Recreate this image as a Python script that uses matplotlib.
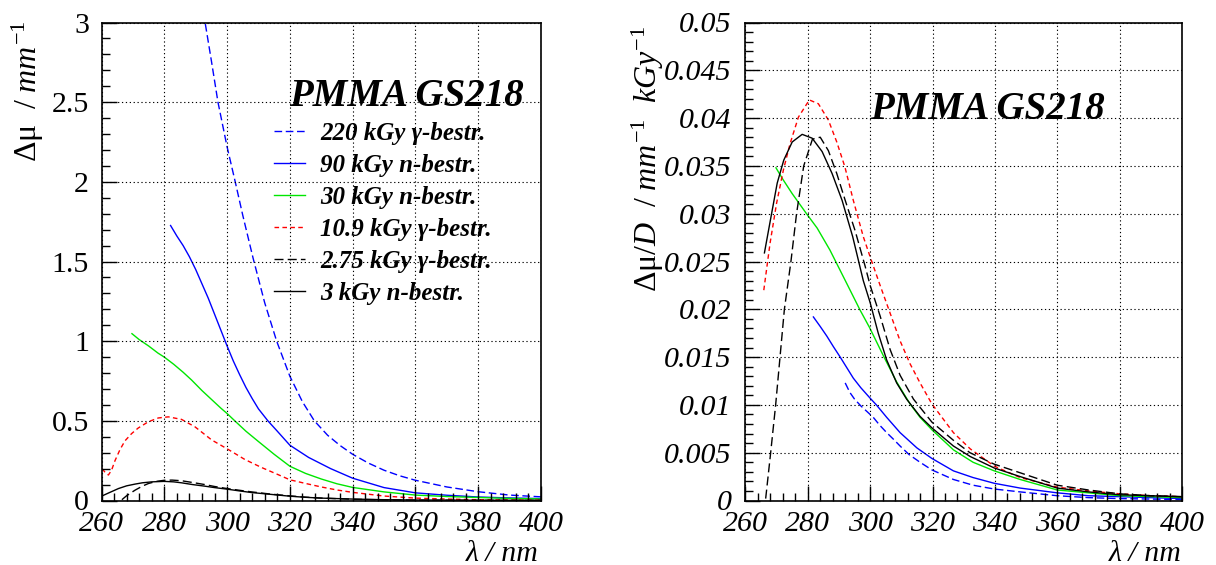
import matplotlib
matplotlib.use("Agg")
import matplotlib.pyplot as plt
from matplotlib.ticker import MultipleLocator, FixedLocator

plt.rcParams['font.family'] = ['Liberation Serif', 'DejaVu Serif']
plt.rcParams['mathtext.fontset'] = 'custom'
plt.rcParams['mathtext.rm'] = 'Liberation Serif'
plt.rcParams['mathtext.it'] = 'Liberation Serif:italic'
plt.rcParams['mathtext.bf'] = 'Liberation Serif:bold'
plt.rcParams['lines.scale_dashes'] = False

# ---------------- left panel: induced absorption  dmu / mm^-1 ----------------
l220_x = [292.5, 295, 297.1, 300, 302.6, 305, 308.3, 312, 315.8, 320, 324, 327.8, 332, 336, 340,
          345, 350, 355, 360, 370, 380, 390, 400]
l220_y = [3.06, 2.76, 2.50, 2.22, 2.00, 1.79, 1.52, 1.24, 1.00, 0.78, 0.62, 0.50, 0.41, 0.345, 0.29,
          0.235, 0.19, 0.155, 0.127, 0.085, 0.055, 0.034, 0.023]

l90_x = [282, 284, 286, 288, 290, 292, 294, 296, 298, 300, 302, 304, 306, 308, 310, 313, 316, 320,
         326, 333, 340, 350, 360, 370, 380, 390, 400]
l90_y = [1.726, 1.66, 1.60, 1.53, 1.45, 1.36, 1.27, 1.17, 1.07, 0.97, 0.875, 0.79, 0.71, 0.64, 0.575,
         0.50, 0.435, 0.347, 0.27, 0.20, 0.14, 0.081, 0.048, 0.033, 0.022, 0.016, 0.012]

l30_x = [269.7, 272, 275, 278, 280, 283, 286, 288.7, 292, 295, 298, 300, 303, 306, 310, 315, 320,
         325, 330, 335, 340, 350, 360, 370, 380, 390, 400]
l30_y = [1.047, 1.01, 0.97, 0.925, 0.90, 0.855, 0.805, 0.756, 0.69, 0.635, 0.58, 0.546, 0.49, 0.435,
         0.37, 0.29, 0.215, 0.17, 0.135, 0.105, 0.082, 0.054, 0.034, 0.025, 0.019, 0.013, 0.010]

l109_x = [260.2, 261.2, 262.2, 263.2, 264.3, 265.9, 267.5, 269.6, 271.7, 274.9, 278.1, 281.3, 285.5,
          289.8, 295.1, 300.4, 305.7, 311, 316.3, 320, 325, 330, 335, 340, 350, 360, 370, 380, 390, 400]
l109_y = [0.20, 0.175, 0.16, 0.19, 0.25, 0.32, 0.375, 0.42, 0.455, 0.494, 0.518, 0.525, 0.509,
          0.462, 0.38, 0.32, 0.257, 0.207, 0.162, 0.13, 0.107, 0.085, 0.066, 0.051, 0.028, 0.015,
          0.009, 0.005, 0.003, 0.002]

l275_x = [266.5, 268, 270.7, 273, 275, 277.5, 280, 282.5, 285.5, 289, 292.9, 296, 300, 304, 307.8,
          314, 320, 325, 330, 340, 350, 360, 380, 400]
l275_y = [0.005, 0.03, 0.065, 0.09, 0.107, 0.12, 0.127, 0.128, 0.124, 0.113, 0.10, 0.088, 0.075,
          0.064, 0.054, 0.04, 0.029, 0.021, 0.015, 0.008, 0.004, 0.0025, 0.001, 0.0005]

l3_x = [260, 262, 265.4, 268, 270.7, 273, 276, 280, 283, 285.5, 289, 292.9, 296, 300.1, 304, 307.8,
        314.2, 320, 325, 330, 340, 350, 360, 380, 400]
l3_y = [0.027, 0.045, 0.075, 0.092, 0.103, 0.111, 0.117, 0.12, 0.117, 0.111, 0.10, 0.09, 0.081,
        0.071, 0.06, 0.05, 0.038, 0.027, 0.02, 0.015, 0.009, 0.005, 0.003, 0.0015, 0.001]

# ---------------- right panel: dose-normalised  dmu/D ----------------
r220_x = [292, 293.5, 295, 297, 299, 301, 303, 305.3, 307.5, 309.6, 312.5, 316, 319.8, 326.7, 333,
          339.8, 348.1, 360, 370, 380, 390, 400]
r220_y = [0.0123, 0.0113, 0.0106, 0.0099, 0.0093, 0.0087, 0.0079, 0.0071, 0.0064, 0.0057, 0.0048,
          0.0040, 0.0032, 0.0022, 0.0016, 0.0012, 0.0009, 0.0005, 0.0003, 0.0002, 0.00015, 0.0001]

r90_x = [281.8, 284, 286.1, 288.2, 290.4, 292.5, 294.6, 297, 300, 302, 305.3, 309.6, 315, 319.8,
         326.7, 333, 339.8, 348.1, 360, 370, 380, 390, 400]
r90_y = [0.0192, 0.0182, 0.0172, 0.0161, 0.0150, 0.0139, 0.0128, 0.0118, 0.0107, 0.0100, 0.0087,
         0.0071, 0.0055, 0.0044, 0.0031, 0.0024, 0.0018, 0.0013, 0.0008, 0.0005, 0.0004, 0.0003, 0.0002]

r30_x = [269.8, 272, 275, 279.6, 283, 287.1, 292.5, 296.8, 299.8, 304.3, 308.5, 312.8, 316, 319.8,
         326.7, 333, 339.8, 348.1, 360, 370, 380, 390, 400]
r30_y = [0.0348, 0.0336, 0.0321, 0.0300, 0.0285, 0.0262, 0.0227, 0.0199, 0.0181, 0.0151, 0.0124,
         0.0101, 0.0087, 0.0074, 0.0053, 0.0040, 0.0031, 0.0022, 0.0011, 0.0008, 0.0005, 0.0004, 0.0003]

r109_x = [265.9, 267.9, 270, 272.2, 274.3, 277, 280.5, 283.4, 286.6, 289.3, 291.9, 294.6, 297.8,
          300.3, 303.2, 306.4, 309.6, 312.8, 316, 319.8, 326.7, 332.1, 339.8, 348.1, 360, 370, 380,
          390, 400]
r109_y = [0.0220, 0.0269, 0.0311, 0.0346, 0.0373, 0.0401, 0.0419, 0.0415, 0.0398, 0.0375, 0.0349,
          0.0314, 0.0276, 0.0252, 0.0225, 0.0196, 0.0167, 0.0143, 0.0123, 0.0101, 0.0071, 0.0054,
          0.0036, 0.0024, 0.0014, 0.0010, 0.0007, 0.0005, 0.0004]

r275_x = [266.5, 268.1, 269.7, 271.1, 272.5, 274.6, 276.4, 278.7, 281.5, 284, 286.6, 289.3, 292,
          295.2, 298.4, 300, 303.2, 306.4, 309.6, 313.9, 319.8, 326.7, 332, 339.8, 348.1, 360, 370,
          380, 390, 400]
r275_y = [0.0002, 0.005, 0.010, 0.015, 0.020, 0.025, 0.030, 0.035, 0.0378, 0.038, 0.0366, 0.0342,
          0.0314, 0.0282, 0.0245, 0.0225, 0.0193, 0.0158, 0.0131, 0.0106, 0.0082, 0.0063, 0.0050,
          0.0038, 0.0029, 0.0016, 0.0011, 0.0007, 0.0005, 0.0004]

r3_x = [266.1, 268, 270.2, 272.3, 275, 278.2, 281.4, 284.6, 287.8, 291, 294.4, 297.8, 300, 302.6,
        305.3, 308.5, 311.7, 316, 319.8, 326.7, 332.1, 339.8, 348.1, 360, 370, 380, 390, 400]
r3_y = [0.0259, 0.0293, 0.0332, 0.0356, 0.0375, 0.0383, 0.0379, 0.0365, 0.0342, 0.0314, 0.0276,
        0.0230, 0.0207, 0.0175, 0.0147, 0.0123, 0.0106, 0.0088, 0.0076, 0.0057, 0.0046, 0.0034,
        0.0025, 0.0013, 0.0009, 0.0006, 0.0005, 0.0004]

labels = ["220 kGy \u03b3-bestr.", "90 kGy n-bestr.", "30 kGy n-bestr.",
          "10.9 kGy \u03b3-bestr.", "2.75 kGy \u03b3-bestr.", "3 kGy n-bestr."]

x_ticks = [260, 280, 300, 320, 340, 360, 380, 400]
left_y_ticks = [0, 0.5, 1, 1.5, 2, 2.5, 3]
left_y_labels = ["0", "0.5", "1", "1.5", "2", "2.5", "3"]
right_y_ticks = [0, 0.005, 0.01, 0.015, 0.02, 0.025, 0.03, 0.035, 0.04, 0.045, 0.05]
right_y_labels = ["0", "0.005", "0.01", "0.015", "0.02", "0.025", "0.03", "0.035", "0.04",
                  "0.045", "0.05"]

BLUE, GREEN, RED, BLACK = "#0000ff", "#00e600", "#ff0000", "#000000"
DASH_BLUE = (0, (5.5, 2.6))
DASH_RED = (0, (3.3, 2.4))
DASH_BLACK = (0, (6.5, 3.0))
LW = 1.0

styles = [(BLUE, DASH_BLUE), (BLUE, "-"), (GREEN, "-"),
          (RED, DASH_RED), (BLACK, DASH_BLACK), (BLACK, "-")]

W, H = 1216, 565
fig = plt.figure(figsize=(W / 100, H / 100), dpi=100)
bot = 1 - 500.5 / H
hgt = (500.5 - 22.5) / H
ax1 = fig.add_axes([101.5 / W, bot, (541 - 101.5) / W, hgt])
ax2 = fig.add_axes([745.4 / W, bot, (1182 - 745.4) / W, hgt])

left_series = [(l220_x, l220_y), (l90_x, l90_y), (l30_x, l30_y),
               (l109_x, l109_y), (l275_x, l275_y), (l3_x, l3_y)]
right_series = [(r220_x, r220_y), (r90_x, r90_y), (r30_x, r30_y),
                (r109_x, r109_y), (r275_x, r275_y), (r3_x, r3_y)]

handles = []
for (xs, ys), (c, ls), lab in zip(left_series, styles, labels):
    h, = ax1.plot(xs, ys, color=c, linestyle=ls, lw=LW, label=lab)
    handles.append(h)
for (xs, ys), (c, ls) in zip(right_series, styles):
    ax2.plot(xs, ys, color=c, linestyle=ls, lw=LW)

grid_style = dict(color="black", linestyle=(0, (0.9, 1.9)), linewidth=0.8)
TICK_FS = 21.5


def frame(ax, yticks, ylabels, ymax, yminor, italic_y):
    ax.set_xlim(260, 400)
    ax.set_ylim(0, ymax)
    ax.xaxis.set_major_locator(FixedLocator(x_ticks))
    ax.xaxis.set_minor_locator(MultipleLocator(4))
    ax.set_xticklabels([str(t) for t in x_ticks], fontsize=TICK_FS, style="italic")
    ax.yaxis.set_major_locator(FixedLocator(yticks))
    ax.yaxis.set_minor_locator(MultipleLocator(yminor))
    ax.set_yticklabels(ylabels, fontsize=TICK_FS, style="italic" if italic_y else "normal")
    ax.tick_params(axis="both", which="both", direction="in", top=False, right=False, width=1.0)
    ax.tick_params(axis="x", which="major", length=11, pad=7.5)
    ax.tick_params(axis="x", which="minor", length=5.5)
    ax.tick_params(axis="y", which="major", length=11, pad=9)
    ax.tick_params(axis="y", which="minor", length=5.5)
    ax.grid(True, which="major", **grid_style)
    for s in ax.spines.values():
        s.set_linewidth(1.2)
    ax.set_axisbelow(False)


frame(ax1, left_y_ticks, left_y_labels, 3, 0.1, False)
frame(ax2, right_y_ticks, right_y_labels, 0.05, 0.001, True)
ax2.tick_params(axis="y", which="major", pad=10)

# panel titles
title_kw = dict(fontsize=28, fontweight="bold", style="italic", va="baseline", ha="left")
ax1.text(319.7, 2.475, "PMMA GS218", **title_kw)
ax2.text(300.1, 0.0399, "PMMA GS218", **title_kw)

# legend in left panel
ax1.legend(handles=handles, loc="upper left", bbox_to_anchor=(274 / W, 1 - 122 / H),
           bbox_transform=fig.transFigure, frameon=False,
           prop=dict(family="Liberation Serif", weight="bold", style="italic", size=18),
           handlelength=1.24, handletextpad=0.6, labelspacing=0.36,
           borderpad=0, borderaxespad=0)

# axis titles
fig.text(539 / W, 1 - 561 / H, "\u03bb / nm", fontsize=21.5, style="italic",
         ha="right", va="baseline")
fig.text(1182 / W, 1 - 561 / H, "\u03bb / nm", fontsize=21.5, style="italic",
         ha="right", va="baseline")
fig.text(28 / W, 1 - 162 / H, r"$\mathrm{\Delta\mu}\ \ /\ mm^{-1}$", fontsize=23,
         rotation=90, ha="center", va="bottom")
fig.text(648 / W, 1 - 292 / H, r"$\mathrm{\Delta\mu}/D\ \ /\ mm^{-1}\ \ kGy^{-1}$", fontsize=23,
         rotation=90, ha="center", va="bottom")

fig.savefig("out.png", dpi=100)
